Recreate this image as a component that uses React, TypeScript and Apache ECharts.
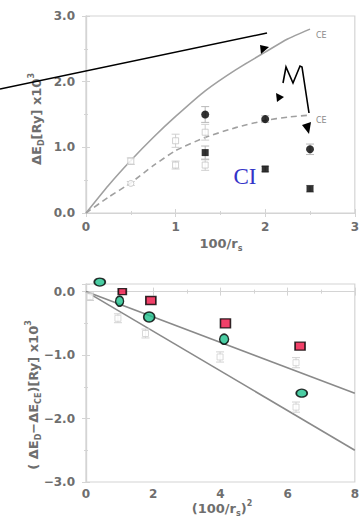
import React, { useEffect, useRef } from "react";
import * as echarts from "echarts";

// ---------- top panel data ----------
const topXTicks = [0, 1, 2, 3];
const topSolidCE = [[0, 0], [0.25, 0.42], [0.5, 0.8], [0.75, 1.15], [1, 1.47], [1.33, 1.86], [1.67, 2.18], [2, 2.45], [2.25, 2.65], [2.5, 2.8]];
const topDashedCE = [[0, 0], [0.25, 0.24], [0.5, 0.46], [0.75, 0.72], [1, 0.95], [1.33, 1.15], [1.67, 1.3], [2, 1.41], [2.25, 1.46], [2.5, 1.49]];
const topOpenSquares = [[0.5, 0.79, 0.05], [1, 1.1, 0.1], [1, 0.73, 0.06], [1.33, 1.23, 0.12], [1.33, 0.73, 0.08]];
const topOpenCircles = [[0.5, 0.45, 0.03]];
const topFilledCircles = [[1.33, 1.5, 0.12], [2, 1.43, 0.05], [2.5, 0.97, 0.08]];
const topFilledSquares = [[1.33, 0.92, 0.1], [2, 0.67, 0.04], [2.5, 0.37, 0.05]];

// ---------- bottom panel data ----------
const bottomXTicks = [0, 2, 4, 6, 8];
const fitLineA = [[0, 0], [8, -1.6]];
const fitLineB = [[0, 0], [8, -2.5]];
const bottomOpenSquares = [[0.12, -0.08, 0.06], [0.95, -0.42, 0.07], [1.77, -0.66, 0.07], [3.99, -1.03, 0.08], [6.25, -1.12, 0.08], [6.25, -1.82, 0.08]];
const bottomRedSquares = [[1.08, 0.0], [1.93, -0.14], [4.15, -0.5], [6.37, -0.86]];
const bottomTealEllipses = [[0.41, 0.15], [1.0, -0.15], [1.88, -0.4], [4.11, -0.75], [6.42, -1.6]];

// marker sizes (style)
const redSizes = [[8, 6], [10, 8], [10, 9], [10, 8]];
const tealSizes = [[11, 8], [8, 10], [11, 10], [9, 10], [11, 8]];

const FONT = "DejaVu Sans";
const LABEL_COLOR = "#6e6e6e";
const FRAME = "#d4d4d4";

function errRender(color: string) {
  return (params: any, api: any) => {
    const x = api.value(0);
    const y = api.value(1);
    const e = api.value(2);
    const t = api.coord([x, y + e]);
    const b = api.coord([x, y - e]);
    const w = 4;
    const style = { stroke: color, lineWidth: 1 };
    return {
      type: "group",
      children: [
        { type: "line", shape: { x1: t[0], y1: t[1], x2: b[0], y2: b[1] }, style },
        { type: "line", shape: { x1: t[0] - w, y1: t[1], x2: t[0] + w, y2: t[1] }, style },
        { type: "line", shape: { x1: b[0] - w, y1: b[1], x2: b[0] + w, y2: b[1] }, style },
      ],
    };
  };
}

function axisBase(extra: any) {
  return {
    axisLine: { show: true, lineStyle: { color: FRAME, width: 1.2 } },
    axisTick: { show: true, inside: true, length: 4, lineStyle: { color: FRAME } },
    minorTick: { show: true, splitNumber: 2, length: 2, lineStyle: { color: FRAME } },
    splitLine: { show: false },
    ...extra,
  };
}

const labelStyle = { fontFamily: FONT, fontWeight: "bold", fontSize: 12, color: LABEL_COLOR };

const titleRich = {
  b: { fontFamily: FONT, fontWeight: "bold", fontSize: 13, fill: LABEL_COLOR, color: LABEL_COLOR, lineHeight: 18 },
  sub: { fontFamily: FONT, fontWeight: "bold", fontSize: 8, fill: LABEL_COLOR, color: LABEL_COLOR, lineHeight: 18, verticalAlign: "bottom" },
  sup: { fontFamily: FONT, fontWeight: "bold", fontSize: 8, fill: LABEL_COLOR, color: LABEL_COLOR, lineHeight: 18, verticalAlign: "top" },
};

function titleText(text: string, x: number, y: number, rotated: boolean) {
  return {
    type: "text",
    x,
    y,
    rotation: rotated ? Math.PI / 2 : 0,
    style: {
      text,
      rich: titleRich,
      align: "center",
      verticalAlign: "middle",
      textAlign: "center",
      textVerticalAlign: "middle",
    },
  };
}

export default function App() {
  const ref = useRef<HTMLDivElement>(null);
  useEffect(() => {
    if (!ref.current) return;
    const chart = echarts.init(ref.current, undefined, { renderer: "svg" });
    const fmt1 = (v: number) => {
      if (Math.abs(v - Math.round(v)) > 1e-6) return "";
      const s = Math.abs(v).toFixed(1);
      return v < -1e-9 ? "\u2212" + s : s;
    };
    const option: any = {
      animation: false,
      backgroundColor: "#fff",
      grid: [
        { left: 86, top: 16, width: 274, height: 197, show: true, borderColor: FRAME, borderWidth: 1.2 },
        { left: 86, top: 284, width: 274, height: 198, show: true, borderColor: FRAME, borderWidth: 1.2 },
      ],
      xAxis: [
        axisBase({
          type: "value", gridIndex: 0, min: 0, max: 3, interval: 1, position: "bottom",
          axisLabel: { ...labelStyle, margin: 8, formatter: (v: number) => (topXTicks.includes(v) ? String(v) : "") },
        }),
        axisBase({ type: "value", gridIndex: 0, min: 0, max: 3, interval: 1, position: "top", axisLabel: { show: false } }),
        axisBase({
          type: "value", gridIndex: 1, min: 0, max: 8, interval: 2, position: "bottom",
          axisLabel: { ...labelStyle, margin: 6, formatter: (v: number) => (bottomXTicks.includes(v) ? String(v) : "") },
        }),
        axisBase({ type: "value", gridIndex: 1, min: 0, max: 8, interval: 2, position: "top", axisLabel: { show: false } }),
      ],
      yAxis: [
        axisBase({
          type: "value", gridIndex: 0, min: 0, max: 3, interval: 1, position: "left",
          axisLabel: { ...labelStyle, margin: 11, formatter: fmt1 },
        }),
        axisBase({ type: "value", gridIndex: 0, min: 0, max: 3, interval: 1, position: "right", axisLabel: { show: false } }),
        axisBase({
          type: "value", gridIndex: 1, min: -3, max: 0.12, interval: 1, position: "left",
          axisLabel: { ...labelStyle, margin: 11, formatter: fmt1 },
        }),
        axisBase({ type: "value", gridIndex: 1, min: -3, max: 0.12, interval: 1, position: "right", axisLabel: { show: false } }),
      ],
      series: [
        // ---- top ----
        {
          type: "line", xAxisIndex: 0, yAxisIndex: 0, data: topSolidCE, smooth: 0.2, showSymbol: false,
          lineStyle: { color: "#a0a0a0", width: 1.6 }, z: 2,
        },
        {
          type: "line", xAxisIndex: 0, yAxisIndex: 0, data: topDashedCE, smooth: 0.2, showSymbol: false,
          lineStyle: { color: "#a0a0a0", width: 1.6, type: [6, 4] }, z: 2,
        },
        {
          type: "custom", xAxisIndex: 0, yAxisIndex: 0, data: [...topOpenSquares, ...topOpenCircles],
          renderItem: errRender("#cfcfcf"), z: 3,
        },
        {
          type: "scatter", xAxisIndex: 0, yAxisIndex: 0, data: topOpenSquares.map((d) => [d[0], d[1]]),
          symbol: "rect", symbolSize: 6, itemStyle: { color: "#fff", borderColor: "#c4c4c4", borderWidth: 1 }, z: 4,
        },
        {
          type: "scatter", xAxisIndex: 0, yAxisIndex: 0, data: topOpenCircles.map((d) => [d[0], d[1]]),
          symbol: "circle", symbolSize: 6, itemStyle: { color: "#fff", borderColor: "#c4c4c4", borderWidth: 1 }, z: 4,
        },
        {
          type: "custom", xAxisIndex: 0, yAxisIndex: 0, data: [...topFilledCircles, ...topFilledSquares],
          renderItem: errRender("#b8b8b8"), z: 3,
        },
        {
          type: "scatter", xAxisIndex: 0, yAxisIndex: 0, data: topFilledCircles.map((d) => [d[0], d[1]]),
          symbol: "circle", symbolSize: 8, itemStyle: { color: "#000" }, z: 5,
        },
        {
          type: "scatter", xAxisIndex: 0, yAxisIndex: 0, data: topFilledSquares.map((d) => [d[0], d[1]]),
          symbol: "rect", symbolSize: 7, itemStyle: { color: "#000" }, z: 5,
        },
        // ---- bottom ----
        {
          type: "line", xAxisIndex: 2, yAxisIndex: 2, data: fitLineA, showSymbol: false,
          lineStyle: { color: "#8a8a8a", width: 1.6 }, z: 2,
        },
        {
          type: "line", xAxisIndex: 2, yAxisIndex: 2, data: fitLineB, showSymbol: false,
          lineStyle: { color: "#8a8a8a", width: 1.6 }, z: 2,
        },
        {
          type: "custom", xAxisIndex: 2, yAxisIndex: 2, data: bottomOpenSquares,
          renderItem: errRender("#d2d2d2"), z: 3,
        },
        {
          type: "scatter", xAxisIndex: 2, yAxisIndex: 2, data: bottomOpenSquares.map((d) => [d[0], d[1]]),
          symbol: "rect", symbolSize: 6, itemStyle: { color: "#fff", borderColor: "#d0d0d0", borderWidth: 1 }, z: 4,
        },
        {
          type: "scatter", xAxisIndex: 2, yAxisIndex: 2, clip: false,
          data: bottomRedSquares.map((d, i) => ({ value: d, symbolSize: redSizes[i] })),
          symbol: "rect", itemStyle: { color: "#ee1144", borderColor: "#000", borderWidth: 1.5 }, z: 6,
        },
        {
          type: "scatter", xAxisIndex: 2, yAxisIndex: 2, clip: false,
          data: bottomTealEllipses.map((d, i) => ({ value: d, symbolSize: tealSizes[i] })),
          symbol: "circle", itemStyle: { color: "#1ec08c", borderColor: "#000", borderWidth: 1.5 }, z: 6,
        },
      ],
      graphic: [
        titleText("{b|\u0394E}{sub|D}{b|[Ry] x10}{sup|3}", 36, 119, true),
        titleText("{b|100/r}{sub|s}", 221, 243, false),
        titleText("{b|( \u0394E}{sub|D}{b|\u2212\u0394E}{sub|CE}{b|)[Ry] x10}{sup|3}", 33, 395, true),
        titleText("{b|(100/r}{sub|s}{b|)}{sup|2}", 222, 508, false),
        {
          type: "text", x: 316, y: 35,
          style: { text: "CE", fill: "#8a8a8a", fontSize: 8, fontFamily: FONT, align: "left", verticalAlign: "middle" },
        },
        {
          type: "text", x: 316, y: 120,
          style: { text: "CE", fill: "#8a8a8a", fontSize: 8, fontFamily: FONT, align: "left", verticalAlign: "middle" },
        },
        {
          type: "text", x: 245, y: 176,
          style: { text: "CI", fill: "#3434c8", fontSize: 23, fontFamily: "Liberation Serif", align: "center", verticalAlign: "middle" },
        },
        // hand-drawn annotations
        { type: "line", shape: { x1: 0, y1: 89, x2: 267, y2: 33 }, style: { stroke: "#000", lineWidth: 1.6 }, z: 10 },
        {
          type: "polyline",
          shape: { points: [[283, 83], [286, 67], [293, 83], [300, 66], [302, 67], [309, 113]] },
          style: { stroke: "#000", lineWidth: 1.6, fill: "none" }, z: 10,
        },
        { type: "polygon", shape: { points: [[260, 45], [261, 54], [269, 47]] }, style: { fill: "#000" }, z: 10 },
        { type: "polygon", shape: { points: [[276, 93], [277, 102], [284, 97]] }, style: { fill: "#000" }, z: 10 },
        { type: "polygon", shape: { points: [[302, 125], [311, 122], [309, 134]] }, style: { fill: "#000" }, z: 10 },
      ],
    };
    chart.setOption(option);
    return () => chart.dispose();
  }, []);
  return (
    <div
      ref={ref}
      style={{ position: "fixed", left: 0, top: 0, width: 362, height: 523, background: "#fff" }}
    />
  );
}
